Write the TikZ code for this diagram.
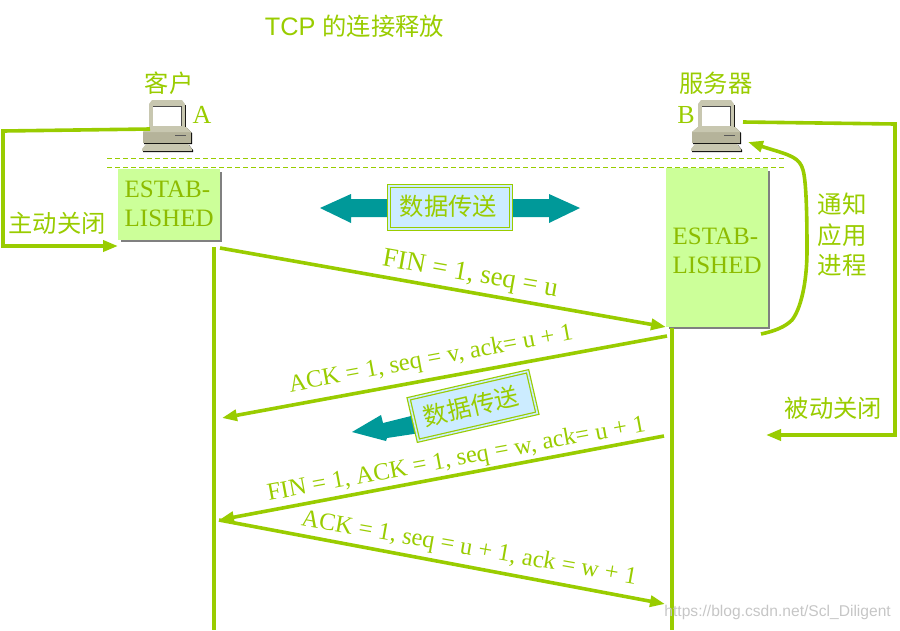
\documentclass[tikz,border=0pt]{standalone}
\usepackage{fontspec}
\setmainfont{Liberation Serif}
\newfontfamily\cjkf{Noto Sans CJK SC}[Scale=1]
\newfontfamily\arialf{Liberation Sans}
\usetikzlibrary{arrows.meta,shapes.arrows,calc}
\definecolor{gr}{HTML}{99CC00}
\definecolor{teal2}{HTML}{009999}
\definecolor{boxg}{HTML}{CCFF99}
\definecolor{boxb}{HTML}{CCECFF}
\definecolor{pcA}{HTML}{B5B39A}
\definecolor{pcB}{HTML}{C8C7B0}
\tikzset{
  x=1pt,y=-1pt,
  flow/.style={draw=gr,line width=3.6pt,-{Triangle[length=15pt,width=11pt]}},
  plain/.style={draw=gr,line width=3.2pt},
  lbl/.style={text=gr,font=\fontsize{24.5}{24.5}\selectfont,inner sep=0pt},
  cjk/.style={text=gr,font=\cjkf\fontsize{24.3}{30}\selectfont,inner sep=0pt,align=center},
  est/.style={fill=boxg,inner sep=0pt},
  esttext/.style={text=gr!92!black,font=\fontsize{25}{29.5}\selectfont,align=left,inner sep=0pt,anchor=west},
  dbl/.style={draw=gr,double=boxb,double distance=1.6pt,line width=1.2pt,fill=boxb,text=gr,font=\cjkf\fontsize{24.3}{24.3}\selectfont,minimum width=122pt,minimum height=43pt,inner sep=0pt},
  dataarrow/.style={fill=teal2,draw=none},
  dashline/.style={draw=gr,dash pattern=on 5pt off 3pt,line width=.8pt}
}
\newcommand{\pc}[3]{%
  \begin{scope}[shift={(#1,#2)}]
    % monitor: body, shadow on the right, screen
    \fill[black] (9,5) rectangle (44,28);
    \fill[pcB] (7,4) -- (10,0) -- (40,0) -- (43,4) -- (43,28) -- (7,28) -- cycle;
    \fill[white] (11,6) rectangle (39,26);
    \draw[black!70,line width=.6pt] (11,6) -- (39,6) -- (39,26);
    % base
    \fill[black] (8,28) -- (45,28) -- (50,33) -- (50,44) -- (2,44) -- (2,33) -- cycle;
    \fill[pcA] (1,32) -- (7,27) -- (44,27) -- (49,32) -- (49,43) -- (1,43) -- cycle;
    \fill[pcB] (7,27) -- (44,27) -- (49,32) -- (1,32) -- cycle;
    \draw[black!65,line width=.8pt] (33,35) -- (44,35);
    % foot
    \fill[black] (5,45) -- (47,45) -- (51,50) -- (51,52) -- (1,52) -- (1,50) -- cycle;
    \fill[pcB] (0,49) -- (4,44) -- (46,44) -- (50,49) -- (50,51) -- (0,51) -- cycle;
    \coordinate (#3) at (0,0);
  \end{scope}}
\begin{document}
\begin{tikzpicture}
\useasboundingbox (0,0) rectangle (900,630);
% title
\node[text=gr,inner sep=0pt,font=\arialf\fontsize{25.3}{25.3}\selectfont] (title) at (354.5,26) {TCP {\cjkf\fontsize{24.3}{24.3}\selectfont 的连接释放}};
% computers
\pc{142}{100}{pca}
\pc{691}{100}{pcb}
\node[cjk] (client) at (169,83) {客户};
\node[cjk] (server) at (716,83) {服务器};
\node[lbl,font=\fontsize{26}{26}\selectfont] (la) at (202,115) {A};
\node[lbl,font=\fontsize{26}{26}\selectfont] (lb) at (686,115) {B};
% dashed
\coordinate (d1l) at (107,158); \coordinate (d1r) at (785,158);
\coordinate (d2l) at (107,167); \coordinate (d2r) at (785,167);
\draw[dashline] (d1l) -- (d1r);
\draw[dashline] (d2l) -- (d2r);
% boxes
\fill[gray] (121,172) rectangle (222,242);
\fill[gray] (669,171) rectangle (770,329);
\node[est,minimum width=102pt,minimum height=71pt,anchor=north west] (ea) at (118,169) {};
\node[est,minimum width=102pt,minimum height=159pt,anchor=north west] (eb) at (666,168) {};
\node[esttext] (eat) at (124.5,204) {ESTAB-\\LISHED};
\node[esttext] (ebt) at (672.5,251) {ESTAB-\\LISHED};
% timelines
\coordinate (ta0) at (214,247); \coordinate (ta1) at (214,630);
\coordinate (tb0) at (672,328); \coordinate (tb1) at (672,630);
\draw[plain] (ta0) -- (ta1);
\draw[plain] (tb0) -- (tb1);
% side arrows
\coordinate (s0) at (150,129); \coordinate (s1) at (3,131); \coordinate (s2) at (3,246); \coordinate (s3) at (118,246);
\draw[flow,line join=miter] (s0) -- (s1) -- (s2) -- (s3);
\coordinate (r0) at (743,122); \coordinate (r1) at (895,124); \coordinate (r2) at (895,435); \coordinate (r3) at (766,435);
\draw[flow,line join=miter] (r0) -- (r1) -- (r2) -- (r3);
\coordinate (c0) at (761,334); \coordinate (c1) at (748,142);
\draw[flow] (c0) .. controls (775,331) and (785,327) .. (792,320)
  .. controls (800,310) and (807,285) .. (807,250)
  .. controls (807,210) and (806,180) .. (803,170)
  .. controls (800,158) and (790,155) .. (770,149) -- (c1);
\node[cjk,font=\cjkf\fontsize{24.5}{30.5}\selectfont] (notify) at (842,235) {通知\\应用\\进程};
\node[cjk] (pass) at (833.5,408) {被动关闭};
\node[cjk] (act) at (57,223) {主动关闭};
% messages
\coordinate (m1a) at (220,248); \coordinate (m1b) at (666,327);
\coordinate (m2a) at (667,336); \coordinate (m2b) at (222,418);
\coordinate (m3a) at (664,436); \coordinate (m3b) at (219,520);
\coordinate (m4a) at (219,520); \coordinate (m4b) at (665,604);
\draw[flow] (m1a) -- (m1b);
\draw[flow] (m2a) -- (m2b);
\draw[flow] (m3a) -- (m3b);
\draw[flow] (m4a) -- (m4b);
\node[lbl,rotate=-10,font=\fontsize{27}{27}\selectfont] (t1) at (470,275) {FIN = 1, seq = u};
\node[lbl,rotate=10.5] (t2) at (431,360) {ACK = 1, seq = v, ack= u + 1};
\node[lbl,rotate=10.5] (t3) at (456.5,460) {FIN = 1, ACK = 1, seq = w, ack= u + 1};
\node[lbl,rotate=-10] (t4) at (469,549) {ACK = 1, seq = u + 1, ack = w + 1};
% data transfer arrows
\coordinate (da0) at (320,208); \coordinate (da1) at (580,208);
\fill[dataarrow] (da0) -- (351,194) -- (351,199) -- (549,199) -- (549,194) -- (da1) -- (549,223) -- (549,217) -- (351,217) -- (351,223) -- cycle;
\node[dbl] (d1) at (450,207.5) {\raisebox{4pt}{\hspace*{-3pt}数据传送}};
\coordinate (db0) at (352,432);
\fill[dataarrow] (db0) -- (381,415) -- (383,423) -- (415,415) -- (420,433) -- (387,438) -- (386,441) -- cycle;
\node[dbl,rotate=13] (d2) at (473,406) {\raisebox{2pt}{\hspace*{-4pt}数据传送}};
% watermark
\node[text=gray!45,inner sep=0pt,anchor=east,font=\arialf\fontsize{15.6}{15.6}\selectfont] (wm) at (891,612) {https://blog.csdn.net/Scl\_Diligent};
\end{tikzpicture}
\end{document}
